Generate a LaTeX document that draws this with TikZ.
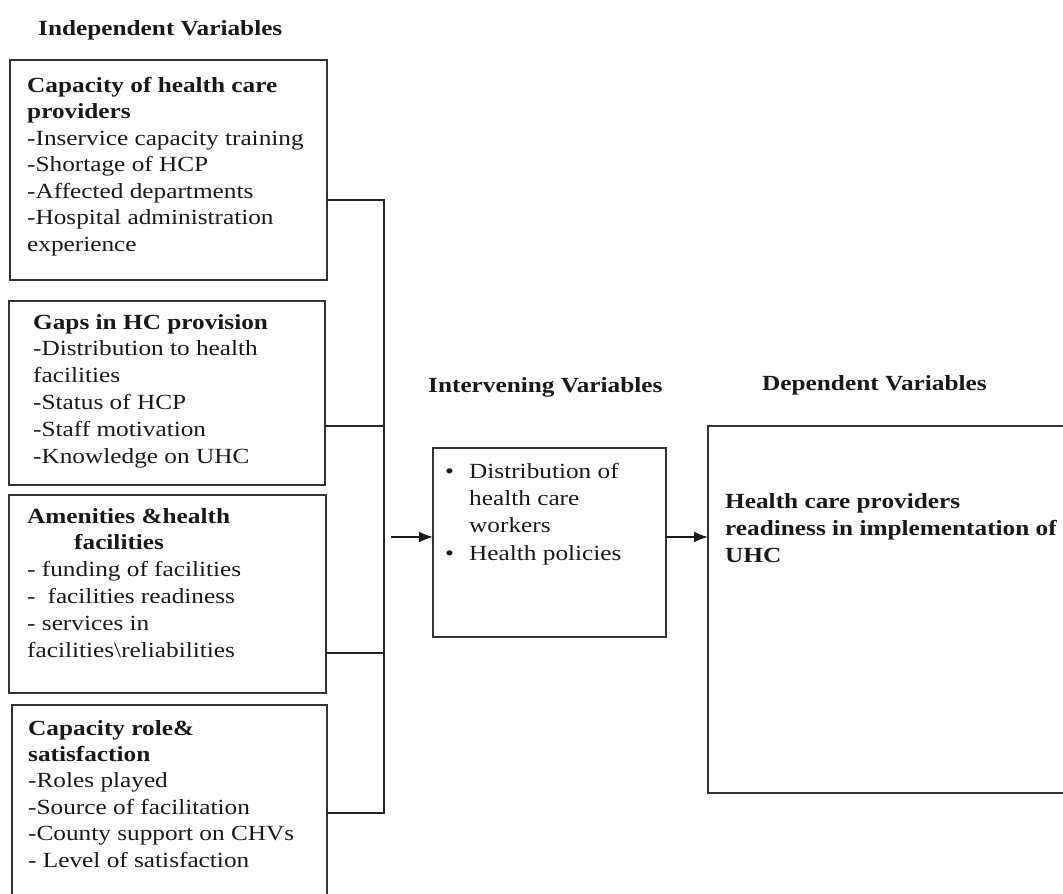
\documentclass[tikz,border=0pt]{standalone}
\usepackage{fontspec}
\setmainfont[FakeStretch=1.17]{Liberation Serif}
\usetikzlibrary{arrows.meta}
\begin{document}
\begin{tikzpicture}[x=1pt,y=-1pt,
  box/.style={draw=black!80, line width=1.7pt, fill=none, inner sep=0pt, outer sep=0pt, anchor=north west},
  txt/.style={align=left, anchor=base west, inner sep=0pt, text=black!90, font=\fontsize{21.6}{26.5}\selectfont},
  ttl/.style={anchor=base west, inner sep=0pt, text=black!90, font=\fontsize{21.6}{26}\selectfont\bfseries},
  conn/.style={draw=black!85, line width=1.7pt},
  arr/.style={draw=black!90, line width=1.7pt, -{Latex[length=14pt,width=11pt]}}]
\useasboundingbox (0,0) rectangle (1063,894);
% titles
\node[ttl] (t1) at (38,35) {Independent Variables};
\node[ttl] (t2) at (428,392) {Intervening Variables};
\node[ttl] (t3) at (762,390) {Dependent Variables};
% boxes
\node[box, minimum width=317pt, minimum height=220pt] (b1) at (10,60) {};
\node[box, minimum width=316pt, minimum height=184pt] (b2) at (9,301) {};
\node[box, minimum width=317pt, minimum height=198pt] (b3) at (9,495) {};
\node[box, minimum width=315pt, minimum height=200pt] (b4) at (12,705) {};
\node[box, minimum width=233pt, minimum height=189pt] (iv) at (433,448) {};
\node[box, minimum width=370pt, minimum height=367pt] (dv) at (708,426) {};
% box texts (anchor = baseline of last line)
\node[txt] (x1) at (27,251) {\textbf{Capacity of health care}\\\textbf{providers}\\-Inservice capacity training\\-Shortage of HCP\\-Affected departments\\-Hospital administration\\experience};
\node[txt, font=\fontsize{21.6}{26.8}\selectfont] (x2) at (33,463) {\textbf{Gaps in HC provision}\\-Distribution to health\\facilities\\-Status of HCP\\-Staff motivation\\-Knowledge on UHC};
\node[txt, font=\fontsize{21.6}{26.8}\selectfont] (x3) at (27,657) {\textbf{Amenities \&health}\\\hspace*{47pt}\textbf{facilities}\\- funding of facilities\\-\hspace*{12pt}facilities readiness\\- services in\\facilities\textbackslash reliabilities};
\node[txt, font=\fontsize{21.6}{26.4}\selectfont] (x4) at (28,867) {\textbf{Capacity role\&}\\\textbf{satisfaction}\\-Roles played\\-Source of facilitation\\-County support on CHVs\\- Level of satisfaction};
\node[txt, font=\fontsize{21.6}{27.3}\selectfont] (x5) at (445,560) {\makebox[24pt][l]{\textbullet}Distribution of\\\hspace*{24pt}health care\\\hspace*{24pt}workers\\\makebox[24pt][l]{\textbullet}Health policies};
\node[txt, font=\fontsize{21.6}{27}\selectfont\bfseries] (x6) at (725,562) {Health care providers\\readiness in implementation of\\UHC};
% connectors
\coordinate (j1) at (384,200);
\coordinate (j2) at (384,426);
\coordinate (j3) at (384,653);
\coordinate (j4) at (384,813);
\coordinate (a0) at (391,537);
\draw[conn] (b1.east |- j1) -- (j1) -- (j4) -- (b4.east |- j4);
\draw[conn] (b2.east |- j2) -- (j2);
\draw[conn] (b3.east |- j3) -- (j3);
\draw[arr] (a0) -- (iv.west |- a0);
\draw[arr] (iv.east |- a0) -- (dv.west |- a0);
\end{tikzpicture}
\end{document}
